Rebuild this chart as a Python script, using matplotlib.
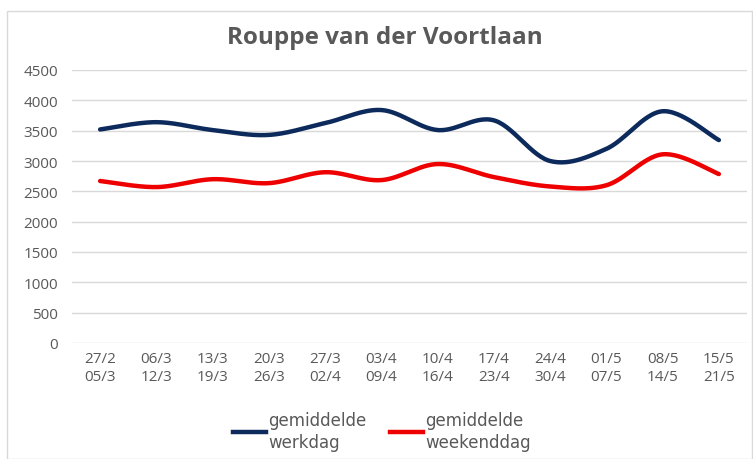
import numpy as np
import matplotlib.pyplot as plt
from matplotlib.patches import Rectangle
from matplotlib.lines import Line2D

plt.rcParams['font.family'] = ['Open Sans', 'DejaVu Sans']

# Week labels (start / end)
weeks = ['27/2\n05/3', '06/3\n12/3', '13/3\n19/3', '20/3\n26/3', '27/3\n02/4', '03/4\n09/4',
         '10/4\n16/4', '17/4\n23/4', '24/4\n30/4', '01/5\n07/5', '08/5\n14/5', '15/5\n21/5']

# Average passages per day
werkdag = [3520, 3640, 3510, 3430, 3625, 3840, 3510, 3670, 3000, 3200, 3820, 3345]
weekenddag = [2670, 2570, 2700, 2635, 2815, 2685, 2950, 2735, 2580, 2600, 3110, 2785]


def smooth(y, n=30):
    # Catmull-Rom style smoothing, like Excel's smoothed line
    y = np.asarray(y, dtype=float)
    x = np.arange(len(y), dtype=float)
    px = np.concatenate([[x[0]], x, [x[-1]]])
    py = np.concatenate([[y[0]], y, [y[-1]]])
    xs, ys = [], []
    t = np.linspace(0, 1, n, endpoint=False)
    bez = lambda a, b1, b2, c: ((1 - t) ** 3 * a + 3 * (1 - t) ** 2 * t * b1
                                + 3 * (1 - t) * t ** 2 * b2 + t ** 3 * c)
    for i in range(1, len(px) - 2):
        p0, p1, p2, p3 = py[i - 1], py[i], py[i + 1], py[i + 2]
        q0, q1, q2, q3 = px[i - 1], px[i], px[i + 1], px[i + 2]
        xs.append(bez(q1, q1 + (q2 - q0) / 6, q2 - (q3 - q1) / 6, q2))
        ys.append(bez(p1, p1 + (p2 - p0) / 6, p2 - (p3 - p1) / 6, p2))
    xs.append([x[-1]])
    ys.append([y[-1]])
    return np.concatenate(xs), np.concatenate(ys)


fig = plt.figure(figsize=(7.53, 4.60), dpi=100)
fig.patches.append(Rectangle((7 / 753, 0), 745 / 753, 448 / 460, transform=fig.transFigure,
                             fill=False, edgecolor='#d9d9d9', linewidth=1))

ax = fig.add_axes([72 / 753, 116 / 460, 675 / 753, 273 / 460])

blue = '#0d2a5c'
red = '#ee0000'
x, y = smooth(werkdag)
ax.plot(x, y, color=blue, linewidth=3.2, solid_capstyle='round')
x, y = smooth(weekenddag)
ax.plot(x, y, color=red, linewidth=3.2, solid_capstyle='round')

ax.set_ylim(0, 4500)
ax.set_yticks(np.arange(0, 4501, 500))
ax.set_xlim(-0.5, 11.5)
ax.set_xticks(range(len(weeks)))
ax.set_xticklabels(weeks, linespacing=1.25)
ax.grid(axis='y', color='#d9d9d9', linewidth=1)
ax.set_axisbelow(True)
for s in ax.spines.values():
    s.set_visible(False)
ax.tick_params(axis='both', length=0, labelsize=11, colors='#595959')
ax.tick_params(axis='y', pad=10)
ax.tick_params(axis='x', pad=6)

fig.text(385 / 753, 1 - 38 / 460, 'Rouppe van der Voortlaan', ha='center', va='center',
         fontsize=17.5, fontweight='bold', color='#595959')

handles = [Line2D([], [], color=blue, linewidth=3.2),
           Line2D([], [], color=red, linewidth=3.2)]
leg = fig.legend(handles, ['gemiddelde\nwerkdag', 'gemiddelde\nweekenddag'], ncol=2,
                 loc='center', bbox_to_anchor=(382 / 753, 1 - 432 / 460), frameon=False,
                 prop={'family': 'DejaVu Sans', 'size': 12}, handlelength=2.0,
                 handletextpad=0.12, columnspacing=1.4, labelcolor='#595959',
                 borderpad=0, borderaxespad=0)
for t in leg.get_texts():
    t.set_linespacing(1.3)

fig.savefig('out.png', dpi=100)
